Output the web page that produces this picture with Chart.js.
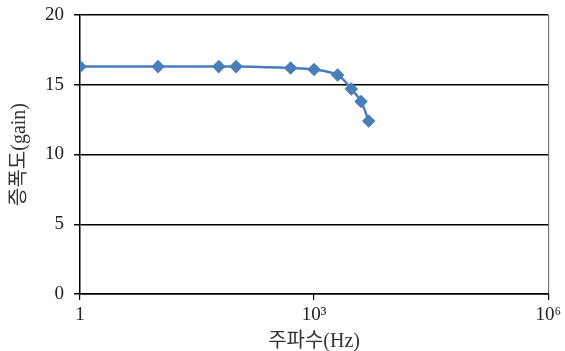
<!DOCTYPE html>
<html>
<head>
<meta charset="utf-8">
<script src="https://cdn.jsdelivr.net/npm/chart.js@4"></script>
<style>
  html, body { margin: 0; padding: 0; background: #fff; }
  #wrap { width: 565px; height: 351px; }
</style>
</head>
<body>
<div id="wrap"><canvas id="gainChart" width="565" height="351"></canvas></div>
<script>
// frequency (Hz) and gain
const freqs = [1, 10, 60, 100, 500, 1000, 2000, 3000, 4000, 5000];
const gains = [16.3, 16.3, 16.3, 16.3, 16.2, 16.1, 15.7, 14.7, 13.8, 12.4];
const xTicks = [1, 1000, 1000000];
const xTickLabels = ['1', '10³', '10⁶'];
const yTicks = [0, 5, 10, 15, 20];

const serif = "'Liberation Serif', 'Noto Sans CJK KR', serif";

new Chart(document.getElementById('gainChart'), {
    type: 'line',
    data: {
        datasets: [{
            data: freqs.map((f, i) => ({ x: f, y: gains[i] })),
            borderColor: '#4a7ebb',
            backgroundColor: '#4a7ebb',
            borderWidth: 2.5,
            pointStyle: 'rectRot',
            pointRadius: 5,
            tension: 0.35
        }]
    },
    options: {
        responsive: false,
        animation: false,
        layout: { padding: { top: 15, right: 16, left: 8, bottom: 0 } },
        plugins: { legend: { display: false }, tooltip: { enabled: false } },
        scales: {
            x: {
                type: 'logarithmic',
                min: 1,
                max: 1000000,
                afterBuildTicks: s => { s.ticks = xTicks.map(v => ({ value: v })); },
                afterFit: s => { s.height = 57; },
                ticks: {
                    callback: v => xTickLabels[xTicks.indexOf(v)],
                    color: '#222',
                    font: { family: serif, size: 19 },
                    maxRotation: 0,
                    padding: 4
                },
                grid: {
                    color: c => (c.index === xTicks.length - 1 ? '#777' : 'rgba(0,0,0,0)'),
                    tickColor: '#000',
                    tickLength: 6,
                    lineWidth: 1.2
                },
                border: { color: '#000', width: 1.5 },
                title: {
                    display: true,
                    text: '주파수(Hz)',
                    color: '#333',
                    font: { family: serif, size: 20 },
                    padding: { top: 0, bottom: -3 }
                }
            },
            y: {
                min: 0,
                max: 20,
                afterBuildTicks: s => { s.ticks = yTicks.map(v => ({ value: v })); },
                afterFit: s => { s.width = 72; s.paddingTop = 0; s.paddingBottom = 0; },
                ticks: {
                    color: '#222',
                    font: { family: serif, size: 19 },
                    padding: 10
                },
                grid: {
                    color: '#000',
                    tickColor: '#000',
                    tickLength: 6,
                    lineWidth: 1.5
                },
                border: { color: '#000', width: 1.5 },
                title: {
                    display: true,
                    text: '증폭도(gain)',
                    color: '#333',
                    font: { family: serif, size: 20 },
                    padding: { top: 0, bottom: 0 }
                }
            }
        }
    }
});
</script>
</body>
</html>
